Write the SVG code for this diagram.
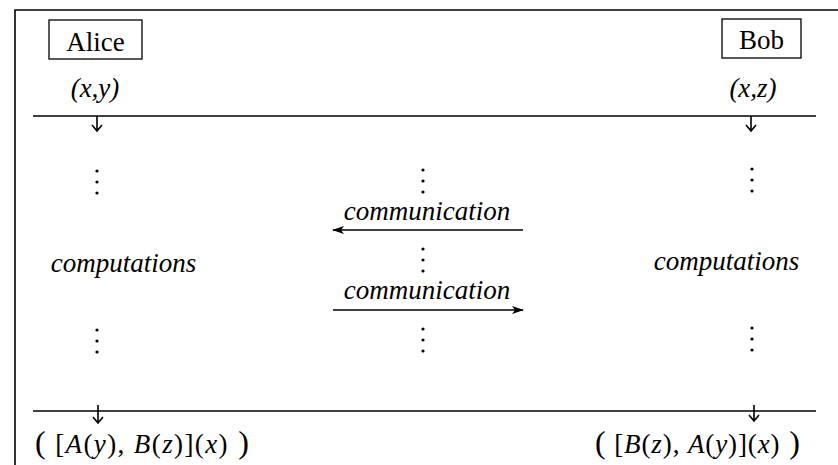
<svg xmlns="http://www.w3.org/2000/svg" width="838" height="465" viewBox="0 0 838 465">
<defs>
<style>
.t{font-family:"Liberation Serif","DejaVu Serif",serif;font-size:27px;fill:#000}
.i{font-style:italic}
.big{font-size:32px}
.ln{stroke:#000;stroke-width:1.6;fill:none}
.box{fill:none;stroke:#000;stroke-width:1.3}
.dot{fill:#000}
</style>
<marker id="ah" viewBox="0 0 12 8" refX="11" refY="4" markerWidth="12" markerHeight="8" markerUnits="userSpaceOnUse" orient="auto">
<path d="M0,0 L12,4 L0,8 L3,4 Z" fill="#000"/>
</marker>
</defs>
<rect width="838" height="465" fill="#fff"/>
<g id="frame">
<path class="ln" d="M15,465 V10 H838"/>
<line class="ln" x1="33" y1="116" x2="816" y2="116"/>
<line class="ln" x1="33" y1="411" x2="816" y2="411"/>
</g>
<g id="alice">
<rect class="box" x="49" y="20" width="93" height="39"/>
<text class="t" x="95.5" y="51" text-anchor="middle" font-size="26.5">Alice</text>
<text class="t i" x="95" y="97" text-anchor="middle" font-size="29">(x,y)</text>
</g>
<g id="bob">
<rect class="box" x="722" y="19" width="79" height="39"/>
<text class="t" x="761.5" y="49" text-anchor="middle" font-size="26.5">Bob</text>
<text class="t i" x="753" y="97" text-anchor="middle" font-size="29">(x,z)</text>
</g>
<g id="alice-comp">
<circle class="dot" cx="97" cy="171" r="1.6"/><circle class="dot" cx="97" cy="182" r="1.6"/><circle class="dot" cx="97" cy="193" r="1.6"/>
<text class="t i" x="123.5" y="272" text-anchor="middle">computations</text>
<circle class="dot" cx="97" cy="330" r="1.6"/><circle class="dot" cx="97" cy="341" r="1.6"/><circle class="dot" cx="97" cy="352" r="1.6"/>
</g>
<g id="bob-comp">
<circle class="dot" cx="752" cy="169" r="1.6"/><circle class="dot" cx="752" cy="180" r="1.6"/><circle class="dot" cx="752" cy="191" r="1.6"/>
<text class="t i" x="726.5" y="270" text-anchor="middle">computations</text>
<circle class="dot" cx="752" cy="328" r="1.6"/><circle class="dot" cx="752" cy="339" r="1.6"/><circle class="dot" cx="752" cy="350" r="1.6"/>
</g>
<g id="channel">
<circle class="dot" cx="423" cy="170" r="1.6"/><circle class="dot" cx="423" cy="181" r="1.6"/><circle class="dot" cx="423" cy="192" r="1.6"/>
<text class="t i" x="427" y="220" text-anchor="middle">communication</text>
<circle class="dot" cx="423" cy="249" r="1.6"/><circle class="dot" cx="423" cy="260" r="1.6"/><circle class="dot" cx="423" cy="271" r="1.6"/>
<text class="t i" x="427" y="299" text-anchor="middle">communication</text>
<circle class="dot" cx="423" cy="329" r="1.6"/><circle class="dot" cx="423" cy="340" r="1.6"/><circle class="dot" cx="423" cy="351" r="1.6"/>
</g>
<g id="results">
<text class="t" x="35" y="453" textLength="214" lengthAdjust="spacing"><tspan class="big">(</tspan> [<tspan class="i">A</tspan>(<tspan class="i">y</tspan>), <tspan class="i">B</tspan>(<tspan class="i">z</tspan>)](<tspan class="i">x</tspan>)<tspan class="big"> )</tspan></text>
<text class="t" x="800" y="453" text-anchor="end" textLength="205" lengthAdjust="spacing"><tspan class="big">(</tspan> [<tspan class="i">B</tspan>(<tspan class="i">z</tspan>), <tspan class="i">A</tspan>(<tspan class="i">y</tspan>)](<tspan class="i">x</tspan>)<tspan class="big"> )</tspan></text>
</g>
<g id="connectors">
<path class="ln" d="M97,116 V131 M92,125 L97,131 L102,125"/>
<path class="ln" d="M751,116 V131 M746,125 L751,131 L756,125"/>
<path class="ln" d="M98,405 V423 M93,417 L98,423 L103,417"/>
<path class="ln" d="M754,405 V421 M749,415 L754,421 L759,415"/>
<line class="ln" x1="523" y1="230" x2="333" y2="230" marker-end="url(#ah)"/>
<line class="ln" x1="333" y1="310" x2="523" y2="310" marker-end="url(#ah)"/>
</g>
</svg>
